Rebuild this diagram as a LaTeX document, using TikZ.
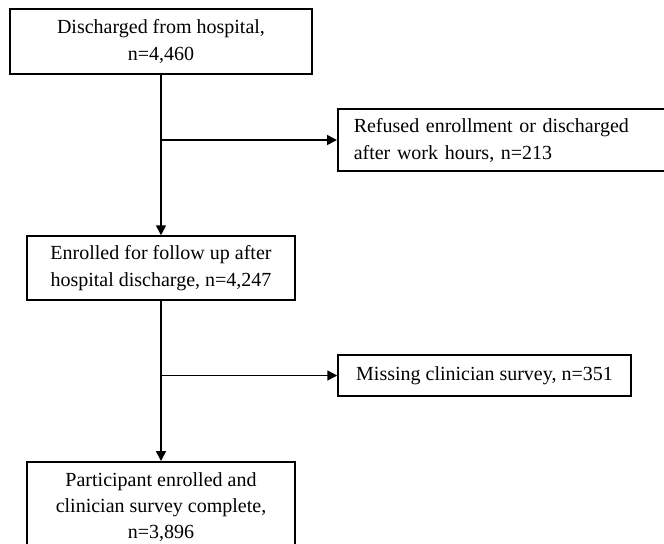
\documentclass[tikz,border=0pt]{standalone}
\usepackage{fontspec}
\setmainfont{Liberation Serif}
\usetikzlibrary{arrows.meta,positioning,calc}

\begin{document}
\begin{tikzpicture}[x=0.5pt, y=-0.5pt, line width=0.75pt, >={Triangle[length=5pt, width=5pt]},
  box/.style={draw, line width=0.75pt, align=center, inner sep=0pt,
              font=\fontsize{10}{13.5}\selectfont}]
  \clip (0,0) rectangle (664,543);
  \node[box, minimum width=151pt, minimum height=32.5pt] (disch) at (161,41.5)
    {Discharged from hospital,\\ n=4,460};
  \node[box, anchor=west, minimum height=31pt, text width=164pt, inner xsep=8pt, align=left]
    (refused) at (337,140) {Refused enrollment or discharged\\ after work hours, n=213};
  \node[box, minimum width=134pt, minimum height=32pt] (enrol) at (161,268)
    {Enrolled for follow up after\\ hospital discharge, n=4,247};
  \node[box, minimum width=146.5pt, minimum height=20.5pt] (missing) at (484.5,375.5)
    {Missing clinician survey, n=351};
  \node[box, anchor=north, minimum width=134pt, minimum height=45pt,
        font=\fontsize{10}{13}\selectfont] (final) at (161,461)
    {Participant enrolled and\\ clinician survey complete,\\ n=3,896};

  \draw[->] (disch.south) -- (enrol.north);
  \draw[->] (disch.south |- refused.west) -- (refused.west);
  \draw[->] (enrol.south) -- (final.north);
  \draw[->] (enrol.south |- missing.west) -- (missing.west);
\end{tikzpicture}
\end{document}
